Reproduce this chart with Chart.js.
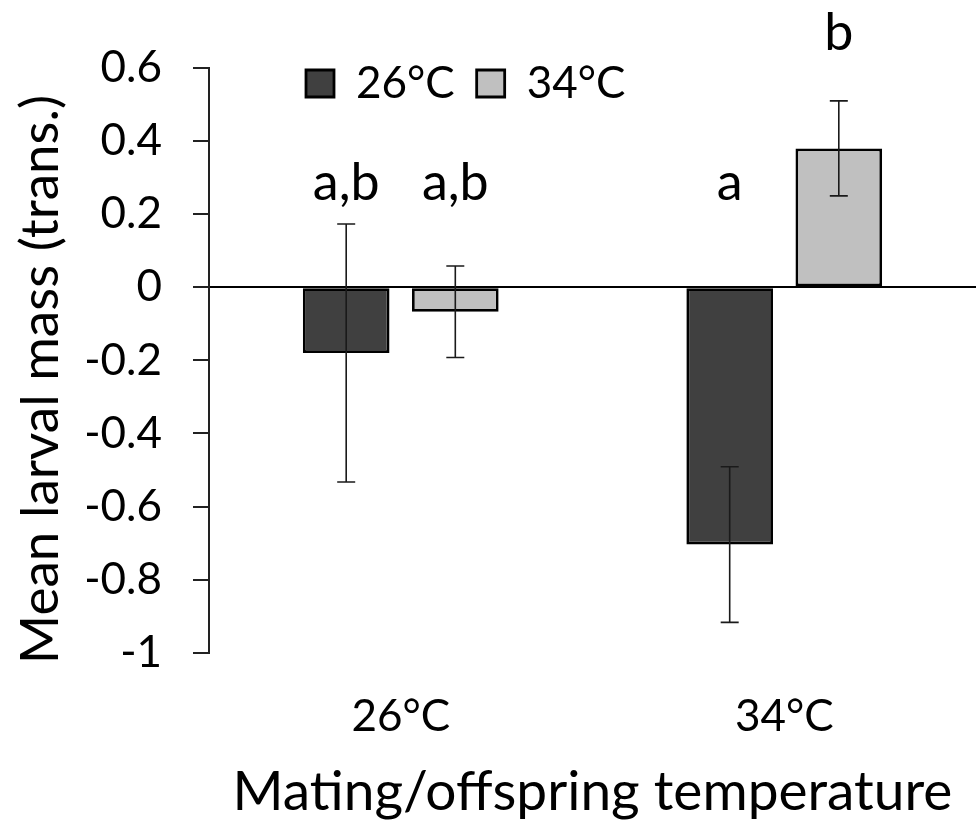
<!DOCTYPE html>
<html>
<head>
<meta charset="utf-8">
<script src="https://cdn.jsdelivr.net/npm/chart.js@4.4.0/dist/chart.umd.min.js"></script>
<style>
  html, body { margin: 0; padding: 0; background: #fff; }
  #wrap { width: 977px; height: 826px; }
</style>
</head>
<body>
<div id="wrap"><canvas id="massChart" width="977" height="826"></canvas></div>
<script>
// Données
const categories = ["26°C", "34°C"];
const seriesNames = ["26°C", "34°C"];
const mean26 = [-0.18, -0.704];
const mean34 = [-0.067, 0.38];
const err26 = [0.353, 0.213];
const err34 = [0.125, 0.13];
const letters26 = ["a,b", "a"];
const letters34 = ["a,b", "b"];
const letterY26 = [0.24, 0.24];
const letterY34 = [0.24, 0.65];
const yTicks = [0.6, 0.4, 0.2, 0, -0.2, -0.4, -0.6, -0.8, -1];
const yTitle = "Mean larval mass (trans.)";

const FONT = "Lato, 'Open Sans', sans-serif";

// Barres d'erreur + lettres de significativité
const errorBars = {
  id: "errorBars",
  afterDatasetsDraw(chart) {
    const ctx = chart.ctx;
    const y = chart.scales.y;
    chart.data.datasets.forEach((ds, i) => {
      const meta = chart.getDatasetMeta(i);
      meta.data.forEach((bar, j) => {
        const v = ds.data[j];
        const e = ds.errors[j];
        const top = y.getPixelForValue(v + e);
        const bot = y.getPixelForValue(v - e);
        ctx.save();
        ctx.strokeStyle = "#1a1a1a";
        ctx.lineWidth = 1.6;
        ctx.beginPath();
        ctx.moveTo(bar.x, top);
        ctx.lineTo(bar.x, bot);
        ctx.moveTo(bar.x - 9, top);
        ctx.lineTo(bar.x + 9, top);
        ctx.moveTo(bar.x - 9, bot);
        ctx.lineTo(bar.x + 9, bot);
        ctx.stroke();

        ctx.fillStyle = "#000";
        ctx.font = "52px " + FONT;
        ctx.textAlign = "center";
        ctx.textBaseline = "alphabetic";
        ctx.fillText(ds.letters[j], bar.x, y.getPixelForValue(ds.letterY[j]));
        ctx.restore();
      });
    });
  }
};

// Titre de l'axe Y (un peu plus bas que le centre, comme dans Excel)
const yAxisTitle = {
  id: "yAxisTitle",
  afterDraw(chart) {
    const { ctx, chartArea } = chart;
    ctx.save();
    ctx.translate(40.5, (chartArea.top + chartArea.bottom) / 2 + 19);
    ctx.rotate(-Math.PI / 2);
    ctx.font = "53px " + FONT;
    ctx.fillStyle = "#000";
    ctx.textAlign = "center";
    ctx.textBaseline = "middle";
    ctx.fillText(yTitle, 0, 0);
    ctx.restore();
  }
};

// Légende placée dans la zone du graphique
const legendInPlot = {
  id: "legendInPlot",
  afterLayout(chart) {
    const lg = chart.legend;
    lg.left = 284; lg.right = 977; lg.width = 693;
    lg.top = 39.5; lg.bottom = 115; lg.height = 75.5;
  }
};

new Chart(document.getElementById("massChart"), {
  type: "bar",
  data: {
    labels: categories,
    datasets: [
      {
        label: seriesNames[0],
        data: mean26,
        errors: err26,
        letters: letters26,
        letterY: letterY26,
        backgroundColor: "#404040",
        borderColor: "#000",
        borderWidth: 2.8,
        borderSkipped: false
      },
      {
        label: seriesNames[1],
        data: mean34,
        errors: err34,
        letters: letters34,
        letterY: letterY34,
        backgroundColor: "#c0c0c0",
        borderColor: "#000",
        borderWidth: 2.8,
        borderSkipped: false
      }
    ]
  },
  options: {
    responsive: false,
    animation: false,
    categoryPercentage: 0.569,
    barPercentage: 0.794,
    layout: { padding: { top: 67, right: 1, left: 0, bottom: 0 } },
    plugins: {
      tooltip: { enabled: false },
      legend: {
        position: "top",
        align: "start",
        maxHeight: 1,
        labels: {
          boxWidth: 28,
          boxHeight: 27,
          padding: 22,
          color: "#000",
          font: { family: FONT, size: 44 }
        }
      }
    },
    scales: {
      x: {
        grid: { display: false, drawTicks: false },
        border: { display: false },
        ticks: {
          color: "#000",
          padding: 38,
          font: { family: FONT, size: 44, lineHeight: 1.2 }
        },
        title: {
          display: true,
          text: "Mating/offspring temperature",
          color: "#000",
          font: { family: FONT, size: 55, lineHeight: 1 },
          padding: { top: 0, bottom: 6 }
        },
        afterFit: (scale) => { scale.height = 173.3; }
      },
      y: {
        min: -1,
        max: 0.6,
        afterBuildTicks: (scale) => { scale.ticks = yTicks.map(v => ({ value: v })); },
        grid: {
          drawOnChartArea: true,
          color: (c) => (c.tick && c.tick.value === 0 ? "#000" : "rgba(0,0,0,0)"),
          lineWidth: 2,
          tickColor: "#222",
          tickLength: 16,
          tickWidth: 2
        },
        border: { display: true, color: "#222", width: 2 },
        ticks: {
          color: "#000",
          padding: 31,
          font: { family: FONT, size: 44 },
          callback: (v) => String(Math.round(v * 10) / 10)
        },
        title: { display: false },
        afterFit: (scale) => { scale.width = 209; }
      }
    }
  },
  plugins: [errorBars, yAxisTitle, legendInPlot]
});
</script>
</body>
</html>
